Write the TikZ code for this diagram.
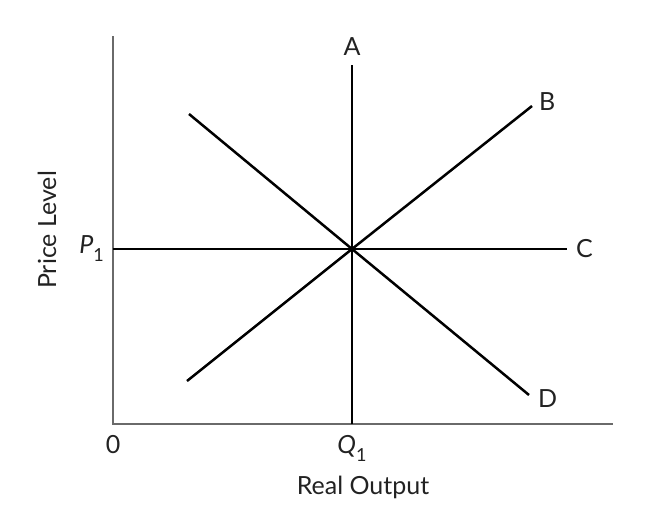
\documentclass[tikz,border=0pt]{standalone}
\usepackage{fontspec}
\setmainfont{Lato}
\usetikzlibrary{positioning}
\definecolor{axisgray}{HTML}{6A6A6A}
\definecolor{textgray}{HTML}{222222}
\newcommand{\subone}{\raisebox{-0.32em}{\fontsize{18}{20}\selectfont 1}}

\begin{document}
\begin{tikzpicture}[
    x=1pt, y=-1pt,
    axis/.style={draw=axisgray, line width=2pt},
    curve/.style={draw=black, line width=2.5pt},
    lbl/.style={inner sep=0pt, text=textgray, font=\fontsize{25}{29}\selectfont}
  ]
    \useasboundingbox (0,0) rectangle (653,506);

    % 軸
    \coordinate (O) at (113,424);
    \coordinate (ytop) at (113,36);
    \coordinate (xend) at (613,424);
    \draw[axis] (ytop) -- (O) -- (xend);

    % 均衡点
    \coordinate (E) at (352,249);

    % 端点
    \coordinate (Atop) at (352,65);
    \coordinate (Afoot) at (352,424);
    \coordinate (Bend) at (532,106);
    \coordinate (Bstart) at (187,381);
    \coordinate (Cleft) at (113,249);
    \coordinate (Cend) at (567,249);
    \coordinate (Dstart) at (189,114);
    \coordinate (Dend) at (529,395);

    % 曲線 A, B, C, D
    \draw[curve] (Afoot) -- (E) -- (Atop);
    \draw[curve] (Bstart) -- (E) -- (Bend);
    \draw[curve] (Cleft) -- (E) -- (Cend);
    \draw[curve] (Dstart) -- (E) -- (Dend);

    % ラベル
    \node[lbl, above=9pt of Atop] (labA) {A};
    \node[lbl, right=7pt of Bend, yshift=4pt] (labB) {B};
    \node[lbl, right=9pt of Cend] (labC) {C};
    \node[lbl, right=9pt of Dend, yshift=-4pt] (labD) {D};

    % 目盛り
    \node[lbl, below=11pt of O] (zero) {0};
    \node[lbl, below=11pt of Afoot] (Q1) {\textit{Q}\subone};
    \node[lbl, left=9pt of Cleft] (P1) {\textit{P}\subone};

    % 軸ラベル
    \node[lbl] (xlab) at (363,487) {Real Output};
    \node[lbl, rotate=90] (ylab) at (47,230) {Price Level};

  \end{tikzpicture}
\end{document}
